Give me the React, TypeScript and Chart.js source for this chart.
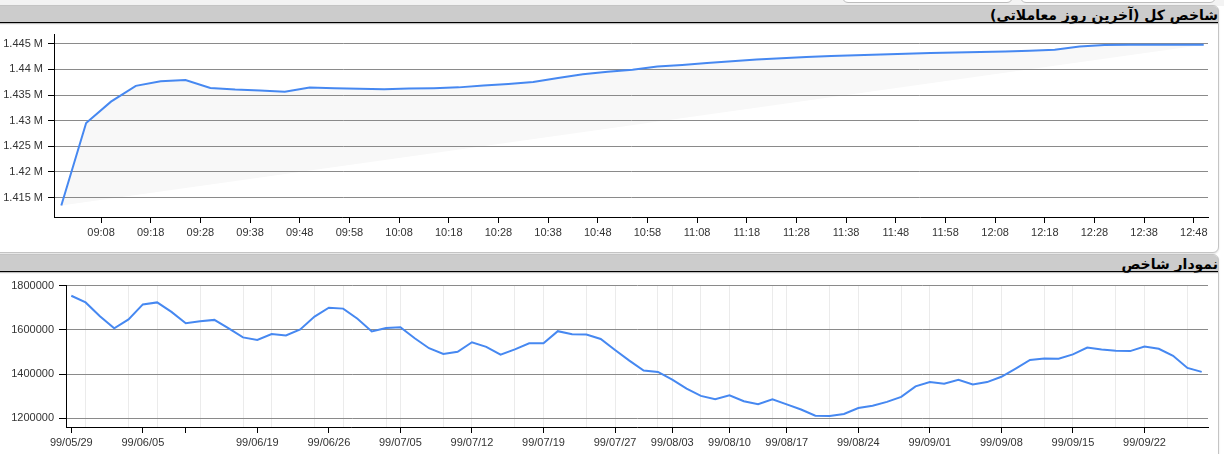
import React, { useEffect, useRef } from 'react';
import { Chart, registerables } from 'chart.js';

Chart.register(...registerables);

const TOP_TITLE = 'شاخص کل (آخرین روز معاملاتی)';
const BOTTOM_TITLE = 'نمودار شاخص';

// Top chart: last trading day, intraday index (5-minute points)
const topTimes = [
  '09:00', '09:05', '09:10', '09:15', '09:20', '09:25', '09:30', '09:35', '09:40', '09:45',
  '09:50', '09:55', '10:00', '10:05', '10:10', '10:15', '10:20', '10:25', '10:30', '10:35',
  '10:40', '10:45', '10:50', '10:55', '11:00', '11:05', '11:10', '11:15', '11:20', '11:25',
  '11:30', '11:35', '11:40', '11:45', '11:50', '11:55', '12:00', '12:05', '12:10', '12:15',
  '12:20', '12:25', '12:30', '12:35', '12:40', '12:45', '12:50',
];
const topValues = [
  1413460, 1429540, 1433710, 1436790, 1437690, 1437940, 1436400, 1436080, 1435890, 1435640,
  1436460, 1436350, 1436210, 1436150, 1436270, 1436350, 1436500, 1436850, 1437170, 1437560,
  1438330, 1439040, 1439540, 1439920, 1440580, 1440890, 1441270, 1441600, 1441920, 1442170,
  1442420, 1442600, 1442750, 1442920, 1443070, 1443200, 1443310, 1443410, 1443520, 1443640,
  1443850, 1444500, 1444780, 1444800, 1444800, 1444800, 1444800,
];
const topTickLabels = [
  '09:08', '09:18', '09:28', '09:38', '09:48', '09:58', '10:08', '10:18', '10:28', '10:38',
  '10:48', '10:58', '11:08', '11:18', '11:28', '11:38', '11:48', '11:58', '12:08', '12:18',
  '12:28', '12:38', '12:48',
];
const topYTicks = [1415000, 1420000, 1425000, 1430000, 1435000, 1440000, 1445000];

// Bottom chart: daily index
const bottomValues = [
  1754000, 1724000, 1661600, 1606700, 1647000, 1715000, 1724000, 1681000, 1630000, 1639000,
  1645000, 1607000, 1566000, 1554000, 1581000, 1575000, 1602000, 1660000, 1700000, 1696000,
  1650000, 1593000, 1608000, 1612000, 1562000, 1517000, 1491000, 1501000, 1544000, 1523000,
  1487500, 1512000, 1539000, 1539000, 1594000, 1580000, 1579000, 1559000, 1509000, 1461000,
  1416000, 1410000, 1374600, 1334000, 1301500, 1286600, 1304500, 1277700, 1264300, 1286600,
  1263000, 1240000, 1212000, 1210700, 1219700, 1246500, 1256700, 1274600, 1297000, 1344700,
  1364000, 1356700, 1374600, 1353600, 1364000, 1388000, 1425000, 1463900, 1471000, 1469700,
  1489000, 1520000, 1511000, 1505400, 1504000, 1524600, 1514300, 1483000, 1428000, 1410000,
];
const bottomTickIdx = [0, 5, 13, 18, 23, 28, 33, 38, 42, 46, 50, 55, 60, 65, 70, 75];
const bottomTickLabels = [
  '99/05/29', '99/06/05', '99/06/19', '99/06/26', '99/07/05', '99/07/12', '99/07/19', '99/07/27',
  '99/08/03', '99/08/10', '99/08/17', '99/08/24', '99/09/01', '99/09/08', '99/09/15', '99/09/22',
];
const bottomBlankTickIdx = [8];
const bottomGridIdx = [
  1, 4, 6, 9, 12, 14, 17, 19, 22, 23, 26, 28, 31, 33, 36, 38, 41, 42, 44, 46, 49, 50,
  53, 55, 58, 60, 63, 65, 68, 70, 73, 75, 78,
];
const bottomYTicks = [1200000, 1400000, 1600000, 1800000];

const BLUE = '#4688f1';
const GRID = '#8a8a8a';
const VGRID = '#ebebeb';
const FILL = '#f8f8f8';
const TICK_FONT = { family: '"Liberation Sans", Arial, sans-serif', size: 11 };
const TICK_COLOR = '#333';
const CLEAR = 'rgba(0,0,0,0)';

const toMin = (s: string) => {
  const [h, m] = s.split(':').map(Number);
  return (h - 9) * 60 + m;
};

function topConfig(): any {
  const pts = topTimes.map((t, i) => ({ x: toMin(t), y: topValues[i] }));
  const chord = [pts[0], pts[pts.length - 1]];
  return {
    type: 'line',
    data: {
      datasets: [
        { data: pts, borderColor: BLUE, borderWidth: 2, pointRadius: 0, tension: 0, fill: 1, backgroundColor: FILL },
        { data: chord, borderColor: CLEAR, borderWidth: 0, pointRadius: 0, fill: false },
      ],
    },
    options: {
      animation: false,
      responsive: false,
      events: [],
      layout: { padding: { top: 9, right: 10, left: 0, bottom: 0 } },
      plugins: { legend: { display: false }, tooltip: { enabled: false }, filler: { drawTime: 'beforeDraw' } },
      scales: {
        x: {
          type: 'linear',
          min: -1.47,
          max: 230.86,
          afterBuildTicks: (s: any) => { s.ticks = topTickLabels.map((l) => ({ value: toMin(l) })); },
          afterFit: (s: any) => { s.height = 35; },
          ticks: {
            autoSkip: false, maxRotation: 0, padding: 3, font: TICK_FONT, color: TICK_COLOR,
            callback: (_v: any, i: number) => topTickLabels[i],
          },
          grid: { drawOnChartArea: false, tickLength: 6, tickColor: '#000' },
          border: { color: '#000', width: 1 },
        },
        y: {
          type: 'linear',
          min: 1411200,
          max: 1446800,
          afterBuildTicks: (s: any) => { s.ticks = topYTicks.map((v) => ({ value: v })); },
          afterFit: (s: any) => { s.width = 54; },
          ticks: {
            padding: 5, font: TICK_FONT, color: TICK_COLOR,
            callback: (v: any) => `${parseFloat((v / 1e6).toFixed(3))} M`,
          },
          grid: { color: GRID, tickLength: 6, tickColor: '#000' },
          border: { color: '#000', width: 1 },
        },
      },
    },
  };
}

function bottomConfig(): any {
  const pts = bottomValues.map((v, i) => ({ x: i, y: v }));
  const all = Array.from(new Set([...bottomGridIdx, ...bottomTickIdx, ...bottomBlankTickIdx])).sort((a, b) => a - b);
  return {
    type: 'line',
    data: {
      datasets: [{ data: pts, borderColor: BLUE, borderWidth: 2, pointRadius: 0, tension: 0, fill: false }],
    },
    options: {
      animation: false,
      responsive: false,
      events: [],
      layout: { padding: { top: 10, right: 10, left: 0, bottom: 0 } },
      plugins: { legend: { display: false }, tooltip: { enabled: false } },
      scales: {
        x: {
          type: 'linear',
          min: -0.37,
          max: 79.44,
          afterBuildTicks: (s: any) => { s.ticks = all.map((v) => ({ value: v })); },
          afterFit: (s: any) => { s.height = 27; },
          ticks: {
            autoSkip: false, maxRotation: 0, padding: 3, font: TICK_FONT, color: TICK_COLOR,
            callback: (v: any) => {
              const i = bottomTickIdx.indexOf(v);
              return i >= 0 ? bottomTickLabels[i] : '';
            },
          },
          grid: {
            tickLength: 6,
            color: (ctx: any) => (ctx.tick && bottomGridIdx.includes(ctx.tick.value) ? VGRID : CLEAR),
            tickColor: (ctx: any) =>
              ctx.tick && (bottomTickIdx.includes(ctx.tick.value) || bottomBlankTickIdx.includes(ctx.tick.value)) ? '#000' : CLEAR,
          },
          border: { color: '#000', width: 1 },
        },
        y: {
          type: 'linear',
          min: 1161000,
          max: 1800000,
          afterBuildTicks: (s: any) => { s.ticks = bottomYTicks.map((v) => ({ value: v })); },
          afterFit: (s: any) => { s.width = 66; },
          ticks: { padding: 5, font: TICK_FONT, color: TICK_COLOR, callback: (v: any) => String(v) },
          grid: { color: GRID, tickLength: 7, tickColor: '#000' },
          border: { color: '#000', width: 1 },
        },
      },
    },
  };
}

function ChartCanvas({ top, width, height, make }: { top: number; width: number; height: number; make: () => any }) {
  const ref = useRef<HTMLCanvasElement | null>(null);
  useEffect(() => {
    if (!ref.current) return;
    const chart = new Chart(ref.current, make());
    return () => chart.destroy();
  }, []);
  return (
    <canvas
      ref={ref}
      width={width}
      height={height}
      style={{ position: 'absolute', left: 0, top, width, height, display: 'block' }}
    />
  );
}

function Panel({ top, height, title }: { top: number; height: number; title: string }) {
  return (
    <div
      style={{
        position: 'absolute', left: -6, top, width: 1225, height, boxSizing: 'border-box',
        border: '1px solid #c4c4c4', borderRadius: 6, background: '#fff', overflow: 'hidden',
        boxShadow: '0 1px 2px rgba(0,0,0,0.12)',
      }}
    >
      <div
        style={{
          height: 17, boxSizing: 'border-box', background: '#cccccc', borderBottom: '1px solid #000',
          direction: 'rtl', textAlign: 'right', paddingRight: 0, fontSize: 14, fontWeight: 'bold',
          lineHeight: '18px', color: '#000', whiteSpace: 'nowrap', overflow: 'visible',
          boxShadow: '0 1px 1px rgba(0,0,0,0.25)',
        }}
      >
        {title}
      </div>
    </div>
  );
}

export default function App() {
  useEffect(() => {
    document.body.style.margin = '0';
  }, []);
  return (
    <div
      style={{
        position: 'relative', width: 1224, height: 454, overflow: 'hidden', background: '#fff',
        fontFamily: '"DejaVu Sans", sans-serif',
      }}
    >
      <div style={{ position: 'absolute', left: 0, top: 0, width: 1224, height: 6, background: '#f3f3f3' }} />
      <div style={{ position: 'absolute', left: 842, top: -10, width: 171, height: 13, boxSizing: 'border-box', border: '1px solid #bdbdbd', borderRadius: 6, background: '#fff' }} />
      <div style={{ position: 'absolute', left: 1020, top: -10, width: 196, height: 13, boxSizing: 'border-box', border: '1px solid #bdbdbd', borderRadius: 6, background: '#fff' }} />
      <Panel top={5} height={248} title={TOP_TITLE} />
      <Panel top={254} height={220} title={BOTTOM_TITLE} />
      <ChartCanvas top={23} width={1218} height={229} make={topConfig} />
      <ChartCanvas top={274} width={1218} height={180} make={bottomConfig} />
    </div>
  );
}
